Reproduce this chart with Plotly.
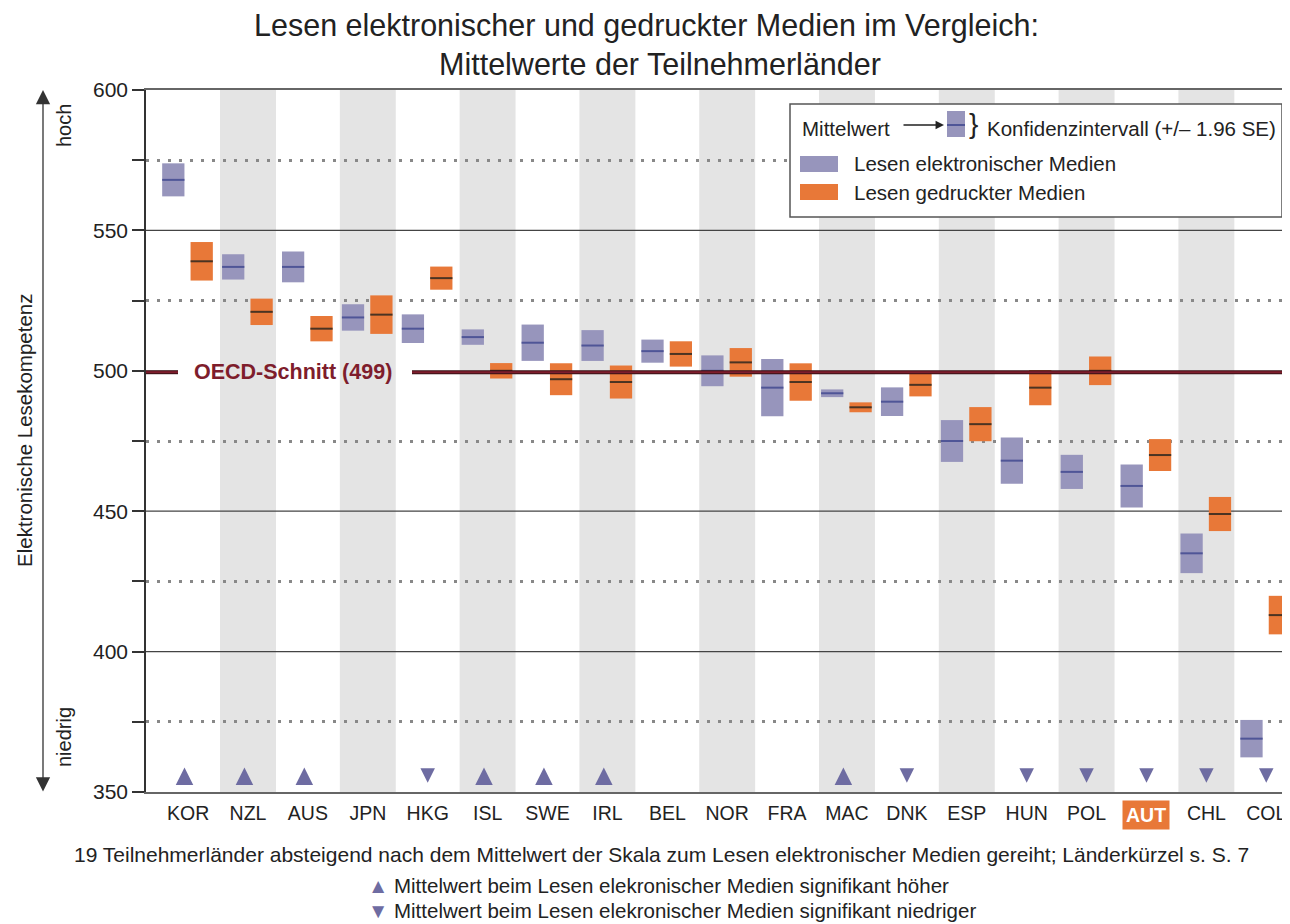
import plotly.graph_objects as go

# ---------------- data ----------------
countries = ["KOR", "NZL", "AUS", "JPN", "HKG", "ISL", "SWE", "IRL", "BEL", "NOR",
             "FRA", "MAC", "DNK", "ESP", "HUN", "POL", "AUT", "CHL", "COL"]
elec_mean = [568, 537, 537, 519, 515, 512, 510, 509, 507, 500,
             494, 492, 489, 475, 468, 464, 459, 435, 369]
elec_se = [3.0, 2.3, 2.8, 2.4, 2.6, 1.4, 3.3, 2.8, 2.1, 2.8,
           5.2, 0.7, 2.6, 3.8, 4.2, 3.1, 3.9, 3.6, 3.4]
print_mean = [539, 521, 515, 520, 533, 500, 497, 496, 506, 503,
              496, 487, 495, 481, 494, 500, 470, 449, 413]
print_se = [3.5, 2.4, 2.3, 3.5, 2.1, 1.4, 2.9, 3.0, 2.3, 2.6,
            3.4, 0.9, 2.1, 3.1, 3.2, 2.6, 2.9, 3.1, 3.5]
# +1 = electronic significantly higher, -1 = significantly lower, 0 = n.s.
sig = [1, 1, 1, 0, -1, 1, 1, 1, 0, 0, 0, 1, -1, 0, -1, -1, -1, -1, -1]
oecd_avg = 499
y_major = [350, 400, 450, 500, 550, 600]
y_minor = [375, 425, 475, 525, 575]
highlight = "AUT"

# ---------------- styling ----------------
FONT = "Liberation Sans, Arial, sans-serif"
C_ELEC = "#9795BC"
C_ELEC_MEAN = "#4F5597"
C_PRINT = "#E87838"
C_PRINT_MEAN = "#4A3322"
C_TRI = "#6E6CA2"
C_BAND = "#E4E4E4"
C_OECD = "#7E1D2C"
C_GRID = "#444444"
TXT = "#222222"

BODY = 8                       # default page margin of the html body
W, H = 1290 - BODY, 924 - BODY
PL, PR, PT, PB = 146, 1290, 90, 792   # plot area in page pixels


def px(x):
    return (x - PL) / (PR - PL)


def py(y):
    return (PB - y) / (PB - PT)


OFF_E, OFF_P, BW = -0.247, 0.227, 0.372
idx = list(range(len(countries)))
ci_e = [1.96 * s for s in elec_se]
ci_p = [1.96 * s for s in print_se]

fig = go.Figure()

fig.add_trace(go.Bar(
    x=[i + OFF_E for i in idx], y=[2 * c for c in ci_e],
    base=[m - c for m, c in zip(elec_mean, ci_e)], width=BW,
    marker=dict(color=C_ELEC, line=dict(width=0)), hoverinfo="skip", showlegend=False))
fig.add_trace(go.Bar(
    x=[i + OFF_P for i in idx], y=[2 * c for c in ci_p],
    base=[m - c for m, c in zip(print_mean, ci_p)], width=BW,
    marker=dict(color=C_PRINT, line=dict(width=0)), hoverinfo="skip", showlegend=False))

fig.add_trace(go.Scatter(
    x=[i + OFF_E for i in idx], y=elec_mean, mode="markers",
    marker=dict(symbol="line-ew-open", size=15.9, color=C_ELEC_MEAN, line=dict(color=C_ELEC_MEAN, width=2)),
    hoverinfo="skip", showlegend=False))
fig.add_trace(go.Scatter(
    x=[i + OFF_P for i in idx], y=print_mean, mode="markers",
    marker=dict(symbol="line-ew-open", size=15.9, color=C_PRINT_MEAN, line=dict(color=C_PRINT_MEAN, width=2)),
    hoverinfo="skip", showlegend=False))

# significance triangles
up_x = [i for i, s in zip(idx, sig) if s > 0]
dn_x = [i for i, s in zip(idx, sig) if s < 0]
fig.add_trace(go.Scatter(
    x=[i - 0.06 for i in up_x], y=[358.7] * len(up_x), mode="markers",
    marker=dict(symbol="arrow-up", size=17.5, color=C_TRI, line=dict(width=0)),
    hoverinfo="skip", showlegend=False, cliponaxis=False))
fig.add_trace(go.Scatter(
    x=dn_x, y=[353.3] * len(dn_x), mode="markers",
    marker=dict(symbol="arrow-down", size=14.5, color=C_TRI, line=dict(width=0)),
    hoverinfo="skip", showlegend=False, cliponaxis=False))

shapes = []
# grey column bands
for i in idx:
    if i % 2 == 1:
        shapes.append(dict(type="rect", xref="x", yref="paper", x0=i - 0.467, x1=i + 0.467,
                           y0=0, y1=1, fillcolor=C_BAND, line=dict(width=0), layer="below"))
# solid major grid lines (the 500 line is replaced by the OECD line)
for v in y_major:
    if v in (350, 600, 500):
        continue
    shapes.append(dict(type="line", xref="paper", yref="y", x0=0, x1=1, y0=v, y1=v,
                       line=dict(color=C_GRID, width=1.3), layer="below"))
# OECD average line, interrupted by its label
for (a, b) in [(0, px(178)), (px(412), 1)]:
    shapes.append(dict(type="line", xref="paper", yref="y", x0=a, x1=b, y0=oecd_avg + 0.5, y1=oecd_avg + 0.5,
                       line=dict(color="#3a1216", width=4), layer="above"))
    shapes.append(dict(type="line", xref="paper", yref="y", x0=a, x1=b, y0=oecd_avg + 0.5, y1=oecd_avg + 0.5,
                       line=dict(color=C_OECD, width=2), layer="above"))

# legend box
shapes.append(dict(type="rect", xref="paper", yref="paper", x0=px(790), x1=px(1282),
                   y0=py(217), y1=py(104), fillcolor="white",
                   line=dict(color="#555555", width=1.5), layer="above"))
shapes.append(dict(type="rect", xref="paper", yref="paper", x0=px(947), x1=px(965),
                   y0=py(137), y1=py(111), fillcolor=C_ELEC, line=dict(width=0), layer="above"))
shapes.append(dict(type="line", xref="paper", yref="paper", x0=px(947), x1=px(965),
                   y0=py(125), y1=py(125), line=dict(color=C_ELEC_MEAN, width=2), layer="above"))
shapes.append(dict(type="rect", xref="paper", yref="paper", x0=px(800), x1=px(838),
                   y0=py(172), y1=py(156), fillcolor=C_ELEC, line=dict(width=0), layer="above"))
shapes.append(dict(type="rect", xref="paper", yref="paper", x0=px(800), x1=px(838),
                   y0=py(200), y1=py(184), fillcolor=C_PRINT, line=dict(width=0), layer="above"))


def txt(text, x, y, size=20.5, xanchor="center", color=TXT, **kw):
    d = dict(text=text, x=px(x), y=py(y), xref="paper", yref="paper", showarrow=False,
             xanchor=xanchor, yanchor="middle", font=dict(size=size, color=color, family=FONT))
    d.update(kw)
    return d


ann = []
# title
ann.append(txt("Lesen elektronischer und gedruckter Medien im Vergleich:", 646, 26, size=30.5))
ann.append(txt("Mittelwerte der Teilnehmerländer", 660, 64, size=30.5))
# OECD label
ann.append(txt("<b>OECD-Schnitt (499)</b>", 293, 372, size=21.5, color=C_OECD))
# legend texts
ann.append(txt("Mittelwert", 800, 128, xanchor="left"))
ann.append(dict(text="", x=px(944), y=py(125), xref="paper", yref="paper", showarrow=True,
                ax=-42, ay=0, arrowhead=2, arrowsize=1.3, arrowwidth=1.3, arrowcolor="#222",
                standoff=0))
ann.append(txt("}", 967, 124, size=28, xanchor="left"))
ann.append(txt("Konfidenzintervall (+/– 1.96 SE)", 985, 128, xanchor="left"))
ann.append(txt("Lesen elektronischer Medien", 852, 163, xanchor="left"))
ann.append(txt("Lesen gedruckter Medien", 852, 192, xanchor="left"))
# left arrow and y labels
ann.append(dict(text="", x=px(43), y=py(90), xref="paper", yref="paper", showarrow=True,
                ax=0, ay=703, arrowside="end+start", arrowhead=2, arrowsize=2.2, arrowwidth=1.3,
                arrowcolor="#333", standoff=0, startstandoff=0))
ann.append(txt("hoch", 64, 126, size=20, textangle=-90))
ann.append(txt("niedrig", 64, 737, size=20, textangle=-90))
ann.append(txt("Elektronische Lesekompetenz", 24, 430, size=20.5, textangle=-90))
# highlighted country label
ann.append(dict(text="<b>" + highlight + "</b>", x=countries.index(highlight), y=py(815), xref="x",
                yref="paper", xanchor="center", yanchor="middle", showarrow=False,
                bgcolor=C_PRINT, borderpad=3,
                font=dict(size=19.5, color="white", family=FONT)))
# footnotes
ann.append(txt("19 Teilnehmerländer absteigend nach dem Mittelwert der Skala zum Lesen elektronischer Medien gereiht; Länderkürzel s. S. 7",
               72, 855, size=21, xanchor="left"))
ann.append(txt("<span style='color:%s'>▲</span> Mittelwert beim Lesen elekronischer Medien signifikant höher" % C_TRI,
               366, 885, size=20.5, xanchor="left"))
ann.append(txt("<span style='color:%s'>▼</span> Mittelwert beim Lesen elekronischer Medien signifikant niedriger" % C_TRI,
               366, 910, size=20.5, xanchor="left"))

ticktext = ["" if c == highlight else c for c in countries]

fig.update_layout(
    width=W, height=H,
    margin=dict(l=PL - BODY, r=0, t=PT - BODY, b=H - (PB - BODY), pad=0),
    paper_bgcolor="white", plot_bgcolor="white",
    barmode="overlay", showlegend=False,
    shapes=shapes, annotations=ann,
    font=dict(family=FONT, color=TXT),
    xaxis=dict(range=[-0.703, 18.396], tickmode="array", tickvals=idx, ticktext=ticktext,
               showgrid=False, zeroline=False, showline=True, linecolor="#666", linewidth=2,
               mirror=True, ticks="outside", ticklen=3, tickcolor="rgba(0,0,0,0)",
               tickfont=dict(size=19.5, color=TXT, family=FONT), fixedrange=True),
    yaxis=dict(range=[350, 600], tickmode="array", tickvals=y_major,
               showgrid=False, zeroline=False,
               showline=True, linecolor="#333", linewidth=1.5,
               ticks="outside", ticklen=12, tickwidth=1.5, tickcolor="#333",
               tickfont=dict(size=21, color=TXT, family=FONT),
               minor=dict(tickmode="array", tickvals=y_minor, ticks="outside", ticklen=12,
                          tickwidth=1.5, tickcolor="#333", showgrid=True, gridcolor="#888",
                          gridwidth=2.5, griddash="3px,8px"),
               fixedrange=True),
)

fig.write_html("out.html")
